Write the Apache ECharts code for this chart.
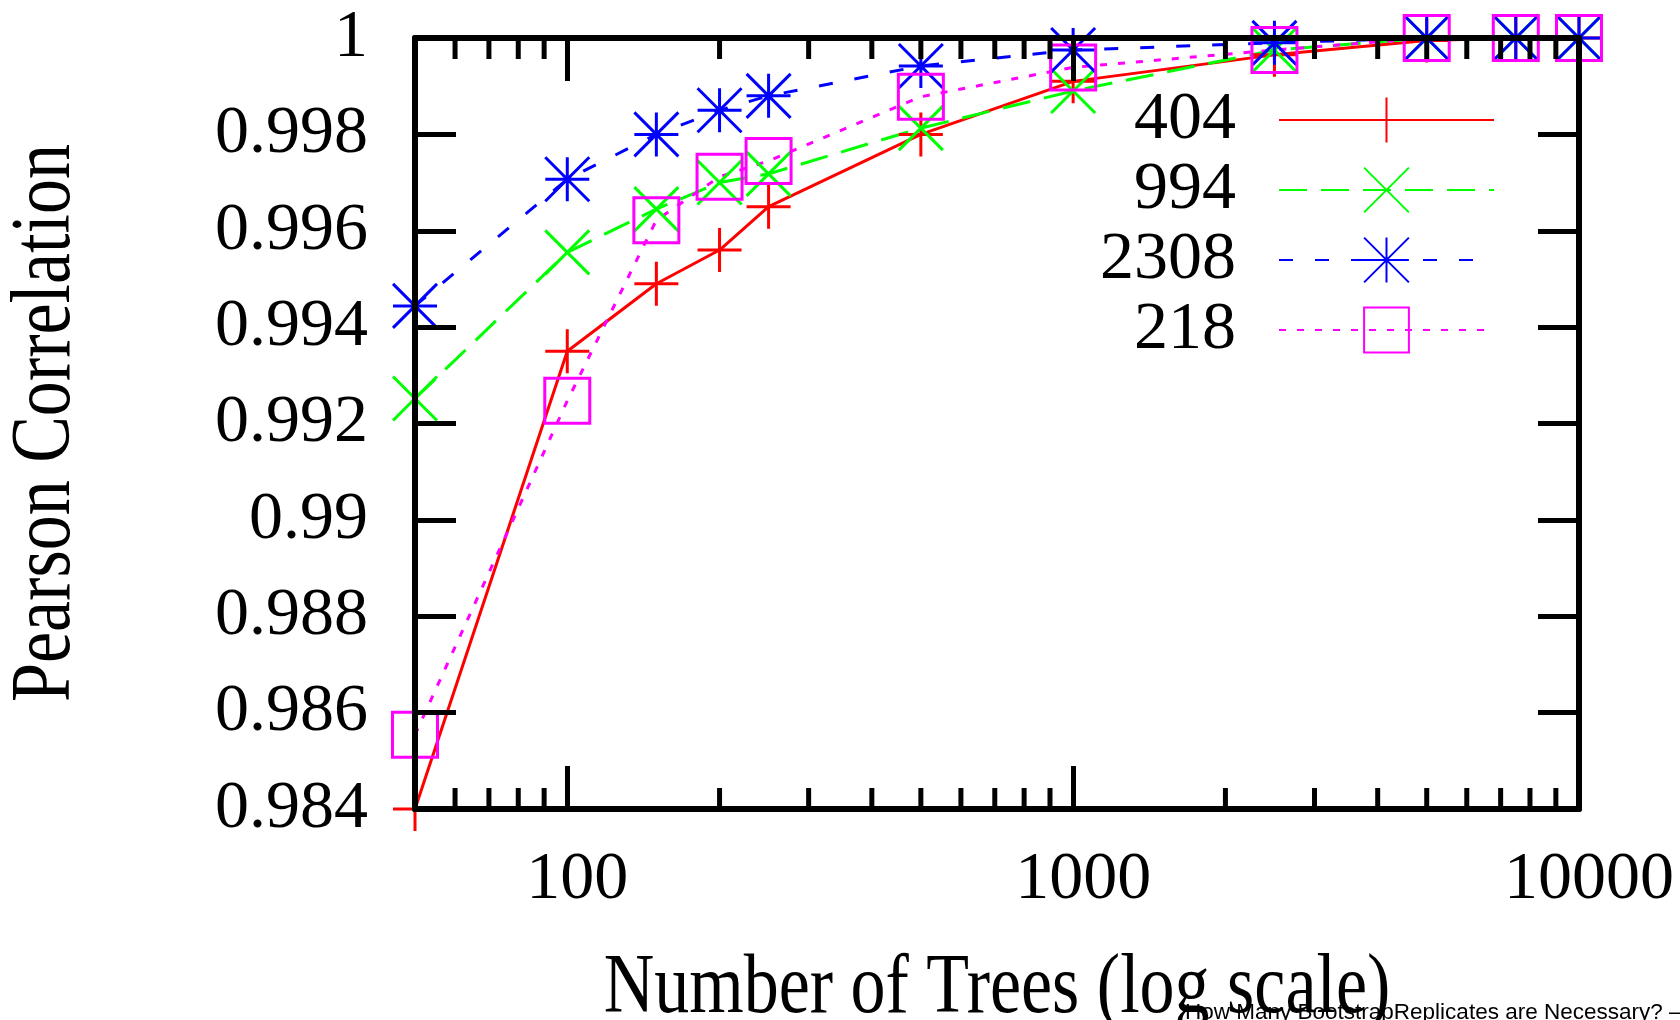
<!DOCTYPE html>
<html>
<head>
<meta charset="utf-8">
<title>Pearson Correlation vs Number of Trees</title>
<script src="https://cdn.jsdelivr.net/npm/echarts@6/dist/echarts.min.js"></script>
<style>
  html, body { margin: 0; padding: 0; background: #fff; }
  #chart { width: 1680px; height: 1020px; }
</style>
</head>
<body>
<div id="chart"></div>
<script>
// Number of trees at which each replicate set was evaluated
const trees = [50, 100, 150, 200, 250, 500, 1000, 2500, 5000, 7500, 10000];

// Pearson correlation against the full tree set, one list per data set
const corr404  = [0.9840, 0.9935, 0.9949, 0.9956, 0.9965, 0.9980, 0.9991, 0.99965, 0.99995, 1.0, 1.0];
const corr994  = [0.99252, 0.99555, 0.99645, 0.9970, 0.99718, 0.99813, 0.9989, 0.99975, 1.0, 1.0, 1.0];
const corr2308 = [0.99444, 0.99707, 0.9980, 0.9985, 0.9988, 0.99942, 0.99975, 0.9999, 1.0, 1.0, 1.0];
const corr218  = [0.98554, 0.99247, 0.99622, 0.99712, 0.99745, 0.99878, 0.99939, 0.99975, 1.0, 1.0, 1.0];

const seriesNames = ['404', '994', '2308', '218'];

// Minor log-decade ticks (2..9 within each decade) on the x axis
const minorTicks = [60, 70, 80, 90, 200, 300, 400, 500, 600, 700, 800, 900,
                    2000, 3000, 4000, 5000, 6000, 7000, 8000, 9000];

const Y_MIN = 0.984, Y_MAX = 1.0, Y_STEP = 0.002;
const SERIF = "'Liberation Serif', 'Times New Roman', serif";

const SYM_PLUS = 'path://M0,-1L0,1M-1,0L1,0';
const SYM_CROSS = 'path://M-1,-1L1,1M-1,1L1,-1';
const SYM_STAR = 'path://M0,-1L0,1M-1,0L1,0M-1,-1L1,1M-1,1L1,-1';
const SYM_BOX = 'path://M-1,-1L1,-1L1,1L-1,1Z';

function pairs(ys) { return trees.map((x, i) => [x, ys[i]]); }

function lineSeries(name, ys, color, dash, symbol, size) {
  return {
    name: name,
    type: 'line',
    data: pairs(ys),
    clip: false,
    symbol: symbol,
    symbolSize: size,
    showAllSymbol: true,
    lineStyle: { color: color, width: 3, type: dash },
    itemStyle: { color: 'rgba(0,0,0,0)', borderColor: color, borderWidth: 3 },
    emphasis: { disabled: true },
    z: 2
  };
}

const chart = echarts.init(document.getElementById('chart'), null, { renderer: 'canvas' });

const axisLineStyle = { color: '#000', width: 6 };

chart.setOption({
  animation: false,
  backgroundColor: '#fff',
  grid: { left: 415, right: 101, top: 38, bottom: 211 },
  xAxis: [
    {
      type: 'log', logBase: 10, min: 50, max: 10000, position: 'bottom', z: 5,
      axisLine: { show: true, lineStyle: axisLineStyle },
      axisTick: { show: true, inside: true, length: 43, lineStyle: { color: '#000', width: 5 } },
      splitLine: { show: false },
      axisLabel: {
        show: true, margin: 37, color: '#000', fontSize: 68, fontFamily: SERIF,
        showMinLabel: false, showMaxLabel: true,
        padding: [0, 0, 0, 20],
        formatter: v => String(Math.round(v))
      }
    },
    {
      type: 'log', logBase: 10, min: 50, max: 10000, position: 'top', z: 5,
      axisLine: { show: true, lineStyle: axisLineStyle },
      axisTick: { show: true, inside: true, length: 43, lineStyle: { color: '#000', width: 5 } },
      splitLine: { show: false },
      axisLabel: { show: false }
    }
  ],
  yAxis: [
    {
      type: 'value', min: Y_MIN, max: Y_MAX, interval: Y_STEP, position: 'left', z: 5,
      axisLine: { show: true, lineStyle: axisLineStyle },
      axisTick: { show: true, inside: true, length: 41, lineStyle: { color: '#000', width: 5 } },
      splitLine: { show: false },
      axisLabel: {
        margin: 47, color: '#000', fontSize: 68, fontFamily: SERIF,
        formatter: v => String(parseFloat(Number(v).toFixed(3)))
      }
    },
    {
      type: 'value', min: Y_MIN, max: Y_MAX, interval: Y_STEP, position: 'right', z: 5,
      axisLine: { show: true, lineStyle: axisLineStyle },
      axisTick: { show: true, inside: true, length: 41, lineStyle: { color: '#000', width: 5 } },
      splitLine: { show: false },
      axisLabel: { show: false }
    }
  ],
  legend: {
    data: seriesNames,
    orient: 'vertical',
    align: 'right',
    right: 185,
    top: 86,
    padding: 0,
    itemWidth: 215,
    itemHeight: 56,
    itemGap: 2,
    selectedMode: false,
    textStyle: {
      fontSize: 68, fontFamily: SERIF, color: '#000',
      lineHeight: 56, padding: [0, 38, 0, 0]
    }
  },
  graphic: [
    {
      type: 'text', x: 47, y: 423, rotation: Math.PI / 2, scaleY: 1.2,
      style: {
        text: 'Pearson Correlation', fill: '#000',
        font: '70px ' + SERIF, align: 'center', verticalAlign: 'middle'
      }
    },
    {
      type: 'text', x: 997, y: 990, scaleY: 1.2,
      style: {
        text: 'Number of Trees (log scale)', fill: '#000',
        font: '70px ' + SERIF, align: 'center', verticalAlign: 'middle'
      }
    },
    {
      type: 'text', x: 1185, y: 1013, z: 10,
      style: {
        text: 'How Many BootstrapReplicates are Necessary? \u2013', fill: '#000',
        font: "22.5px 'Liberation Sans', Arial, sans-serif", align: 'left', verticalAlign: 'middle'
      }
    }
  ],
  series: [
    {
      type: 'custom',
      name: 'minor ticks',
      xAxisIndex: 0, yAxisIndex: 0,
      data: minorTicks.map(v => [v]),
      clip: false,
      silent: true,
      z: 6,
      renderItem: function (params, api) {
        const v = api.value(0);
        const bottom = api.coord([v, Y_MIN]);
        const top = api.coord([v, Y_MAX]);
        const style = { stroke: '#000', lineWidth: 5 };
        return {
          type: 'group',
          children: [
            { type: 'line', shape: { x1: bottom[0], y1: bottom[1], x2: bottom[0], y2: bottom[1] - 21 }, style: style },
            { type: 'line', shape: { x1: top[0], y1: top[1], x2: top[0], y2: top[1] + 21 }, style: style }
          ]
        };
      }
    },
    lineSeries('404', corr404, '#ff0000', 'solid', SYM_PLUS, 44),
    lineSeries('994', corr994, '#00ff00', [28, 14], SYM_CROSS, 44),
    lineSeries('2308', corr2308, '#0000ff', [14, 22], SYM_STAR, 44),
    lineSeries('218', corr218, '#ff00ff', [7, 11], SYM_BOX, 45)
  ]
});
</script>
</body>
</html>
